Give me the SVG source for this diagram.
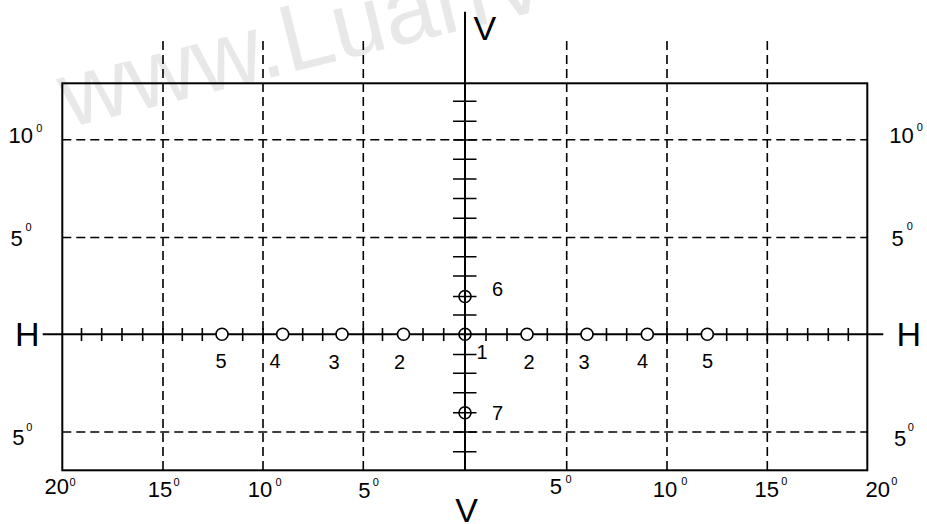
<svg xmlns="http://www.w3.org/2000/svg" width="927" height="524" viewBox="0 0 927 524">
<style>
.wm{font-family:"Liberation Sans",Arial,sans-serif;font-size:95px;fill:#e8e8e8}
.frame{fill:none;stroke:#000;stroke-width:2}
.dash{fill:none;stroke:#000;stroke-width:1.6;stroke-dasharray:9 5}
.axis{fill:none;stroke:#000;stroke-width:2}
.tick{stroke:#000;stroke-width:1.6}
.open{fill:#fff;stroke:#000;stroke-width:1.6}
.cross{fill:none;stroke:#000;stroke-width:1.6}
text{font-family:"Liberation Sans",Arial,sans-serif;fill:#000}
.big{font-size:34px}
.num{font-size:20px}
.deg{font-size:22px}
.sup{font-size:11px}
</style>
<text class="wm" transform="translate(68,128) rotate(-14)">www.LuanV</text>
<g id="frame"><rect class="frame" x="62.3" y="83.3" width="805" height="387"/></g>
<g id="grid">
<path class="dash" d="M163 41V470M263 41V470M363.3 41V470M566.7 41V470M667 41V470M767.3 41V470"/>
<path class="dash" d="M62.3 139.8H867.3M62.3 237.5H867.3M62.3 432H867.3"/>
</g>
<g id="axes">
<path class="axis" d="M42.7 334.3H883.3"/>
<path class="axis" d="M465 11.7V470.7"/>
</g>
<g id="ticks">
<path class="tick" d="M81.5 328V341M101.7 328V341M122 328V341M142.7 328V341M163 328V341M182.3 328V341M202.3 328V341M242.7 328V341M263 328V341M302.7 328V341M322.7 328V341M363.3 328V341M382.5 328V341M423 328V341M443.7 328V341M486 328V341M507 328V341M547.3 328V341M566.7 328V341M606.5 328V341M626.7 328V341M667 328V341M687.3 328V341M726.7 328V341M747.3 328V341M767.3 328V341M787.3 328V341M807.7 328V341M828.3 328V341M848.3 328V341"/>
<path class="tick" d="M453 101.2H476.5M453 121.2H476.5M453 140H476.5M453 159.3H476.5M453 179H476.5M453 198.5H476.5M453 218.3H476.5M453 237.5H476.5M453 256.7H476.5M453 276H476.5M453 296.5H476.5M453 315H476.5M453 354.5H476.5M453 373.3H476.5M453 392.7H476.5M453 412.7H476.5M453 432H476.5M453 451.7H476.5"/>
</g>
<g id="markers">
<circle id="m1" class="cross" cx="465" cy="334.3" r="6"/>
<circle id="m6" class="cross" cx="465" cy="296.5" r="6"/>
<circle id="m7" class="cross" cx="465" cy="412.7" r="6"/>
<circle class="open" cx="222" cy="334.3" r="6"/>
<circle class="open" cx="282.7" cy="334.3" r="6"/>
<circle class="open" cx="342" cy="334.3" r="6"/>
<circle class="open" cx="403.5" cy="334.3" r="6"/>
<circle class="open" cx="527" cy="334.3" r="6"/>
<circle class="open" cx="587" cy="334.3" r="6"/>
<circle class="open" cx="647.3" cy="334.3" r="6"/>
<circle class="open" cx="707.3" cy="334.3" r="6"/>
</g>
<g id="labels">
<text class="big" x="27.2" y="345.5" text-anchor="middle">H</text>
<text class="big" x="908.8" y="345.5" text-anchor="middle">H</text>
<text class="big" x="484.8" y="40" text-anchor="middle">V</text>
<text class="big" x="466.5" y="522" text-anchor="middle">V</text>
<g class="num" text-anchor="middle">
<text x="221" y="368.3">5</text>
<text x="275" y="368.3">4</text>
<text x="334" y="369">3</text>
<text x="399.6" y="368.5">2</text>
<text x="482" y="359.3">1</text>
<text x="529" y="369">2</text>
<text x="584" y="369">3</text>
<text x="642.5" y="368.3">4</text>
<text x="707.5" y="368.3">5</text>
<text x="497.5" y="296">6</text>
<text x="497.5" y="420">7</text>
</g>
<text class="deg" x="8.6" y="143.3">10</text><text class="sup" x="36.2" y="131.5">0</text>
<text class="deg" x="10.6" y="245.7">5</text><text class="sup" x="25.5" y="230.5">0</text>
<text class="deg" x="12.2" y="445">5</text><text class="sup" x="26.2" y="431">0</text>
<text class="deg" x="889.3" y="143.3">10</text><text class="sup" x="916.8" y="131">0</text>
<text class="deg" x="891.6" y="245.7">5</text><text class="sup" x="906.8" y="230">0</text>
<text class="deg" x="893.9" y="445.7">5</text><text class="sup" x="907.8" y="431">0</text>
<text class="deg" x="44.4" y="494.3">20</text><text class="sup" x="69.5" y="485.7">0</text>
<text class="deg" x="147.7" y="497">15</text><text class="sup" x="173.5" y="486">0</text>
<text class="deg" x="247.7" y="497">10</text><text class="sup" x="275.5" y="486">0</text>
<text class="deg" x="358.3" y="498">5</text><text class="sup" x="372.8" y="486">0</text>
<text class="deg" x="549.7" y="494">5</text><text class="sup" x="565.5" y="483.3">0</text>
<text class="deg" x="652.7" y="496.7">10</text><text class="sup" x="681.2" y="485">0</text>
<text class="deg" x="754.4" y="497">15</text><text class="sup" x="781.2" y="485">0</text>
<text class="deg" x="865.4" y="497">20</text><text class="sup" x="891.2" y="485">0</text>
</g>
</svg>
